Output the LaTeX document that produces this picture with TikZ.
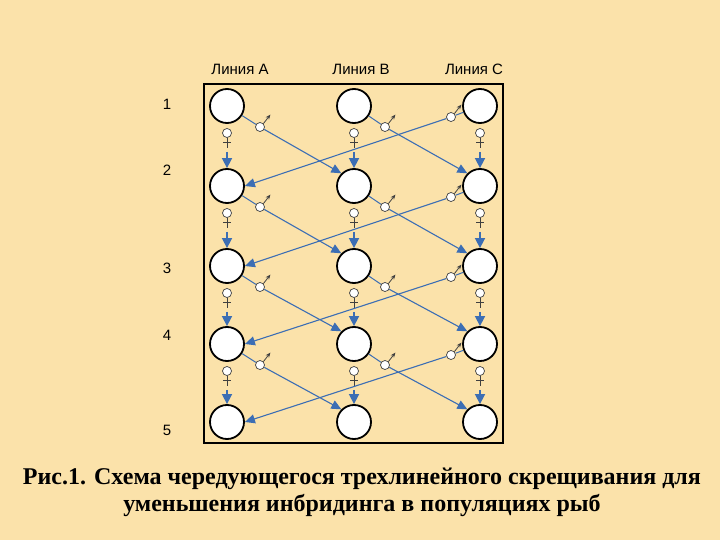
\documentclass[tikz,border=0pt]{standalone}
\usepackage{fontspec}
\setmainfont{Liberation Serif}
\newfontfamily\lab{Liberation Sans}
\usetikzlibrary{arrows.meta,calc}
\definecolor{bg}{RGB}{251,226,170}
\definecolor{bl}{RGB}{60,110,180}
\begin{document}
\begin{tikzpicture}[x=1pt,y=-1pt,
  fish/.style={circle,draw=black,line width=1.8pt,fill=white,minimum size=34pt,inner sep=0pt},
  sym/.style={circle,draw=black!75,line width=0.7pt,fill=white,minimum size=9pt,inner sep=0pt},
  conn/.style={draw=bl,line width=1.1pt,-{Triangle[width=9pt,length=10pt]}},
  vconn/.style={draw=bl,line width=1.6pt,-{Triangle[width=10pt,length=10pt]}},
  lbl/.style={font=\lab\fontsize{15}{18}\selectfont}]
\fill[bg] (0,0) rectangle (720,540);
\useasboundingbox (0,0) rectangle (720,540);
\draw[line width=2.4pt] (204,84) rectangle (503,443);
\node[lbl] at (240,69) {Линия А};
\node[lbl] at (361,69) {Линия В};
\node[lbl] at (474,69) {Линия С};
\foreach \n/\y in {1/104,2/170,3/268,4/335,5/430} \node[lbl] at (167,\y) {\n};
\foreach \i/\y in {1/106,2/186,3/266,4/344,5/422}{
  \node[fish] (A\i) at (227,\y) {};
  \node[fish] (B\i) at (354,\y) {};
  \node[fish] (C\i) at (480,\y) {};
}
\foreach \i/\j in {1/2,2/3,3/4,4/5}{
  \foreach \c in {A,B,C}{
    \node[sym] (f\c\i) at ($(\c\i)+(0,27)$) {};
    \draw[black!75,line width=0.8pt] (f\c\i.south) -- ++(0,10) coordinate (e\c\i) (e\c\i)++(-4,-5) -- ++(8,0);
    \draw[vconn] ($(e\c\i)+(0,4)$) -- (\c\j.north);
  }
  \node[sym] (mA\i) at ($(A\i)+(33,21)$) {};
  \node[sym] (mB\i) at ($(B\i)+(31,21)$) {};
  \node[sym] (mC\i) at ($(C\i)+(-29,11)$) {};
  \foreach \c in {A,B,C}
    \draw[black!75,line width=0.8pt,-{Stealth[length=5pt,width=4pt]}] (m\c\i.north east) -- ++(7,-9);
  \draw[bl,line width=1pt] (A\i) -- (mA\i);
  \draw[conn] (mA\i) -- (B\j.north west);
  \draw[bl,line width=1pt] (B\i) -- (mB\i);
  \draw[conn] (mB\i) -- (C\j.north west);
  \draw[bl,line width=1pt] (C\i) -- (mC\i);
  \draw[conn] (mC\i) -- (A\j.east);
}
\node[font=\bfseries\fontsize{24}{27}\selectfont,align=center] (cap) at (362,492)
 {Рис.1. Схема чередующегося трехлинейного скрещивания для\\ уменьшения инбридинга в популяциях рыб};
\end{tikzpicture}
\end{document}
